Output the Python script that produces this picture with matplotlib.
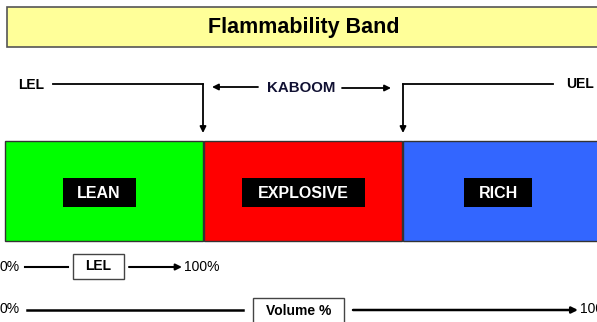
import matplotlib.pyplot as plt
from matplotlib.patches import Rectangle

plt.rcParams['font.family'] = ['Liberation Sans', 'DejaVu Sans']

# zones of the flammability band (pixel layout, y grows downward)
zone_names = ['LEAN', 'EXPLOSIVE', 'RICH']
zone_left = [5, 204, 403]
zone_right = [203, 402, 600]
zone_colors = ['#00FF00', '#FF0000', '#3366FF']
label_centers = [99, 303, 498]
label_widths = [73, 123, 68]
limit_names = ['LEL', 'UEL']
title = 'Flammability Band'

W, H = 597, 322
fig = plt.figure(figsize=(W / 100, H / 100), dpi=100)
ax = fig.add_axes([0, 0, 1, 1])
ax.set_xlim(0, W)
ax.set_ylim(H, 0)
ax.axis('off')

# title banner
ax.add_patch(Rectangle((7, 7), 600, 40, facecolor='#FFFF99', edgecolor='#555555', lw=1.2))
ax.text(304, 27, title, ha='center', va='center', fontsize=15.5, fontweight='bold')

arrow = dict(arrowstyle='-|>', color='black', lw=1.3, mutation_scale=9, shrinkA=0, shrinkB=0)

# LEL / UEL brackets pointing down to zone boundaries
ax.text(18, 85, limit_names[0], ha='left', va='center', fontsize=10, fontweight='bold')
ax.plot([53, 203], [84, 84], color='black', lw=1.3)
ax.annotate('', xy=(203, 133), xytext=(203, 84), arrowprops=arrow)
ax.text(566, 84, limit_names[1], ha='left', va='center', fontsize=10, fontweight='bold')
ax.plot([553, 403], [84, 84], color='black', lw=1.3)
ax.annotate('', xy=(403, 133), xytext=(403, 84), arrowprops=arrow)

# KABOOM between the limits
ax.text(301, 88, 'KABOOM', ha='center', va='center', fontsize=10.8, fontweight='bold', color='#111133')
ax.annotate('', xy=(212, 87), xytext=(258, 87), arrowprops=arrow)
ax.annotate('', xy=(391, 88), xytext=(342, 88), arrowprops=arrow)

# coloured zones with black labels
for name, x0, x1, c, cx, lw in zip(zone_names, zone_left, zone_right, zone_colors,
                                   label_centers, label_widths):
    ax.add_patch(Rectangle((x0, 141), x1 - x0, 100, facecolor=c, edgecolor='#333333', lw=1.0))
    ax.add_patch(Rectangle((cx - lw / 2, 178), lw, 29, facecolor='black', edgecolor='none'))
    ax.text(cx, 193, name, ha='center', va='center', fontsize=11.5, fontweight='bold', color='white')

# 0% -> LEL -> 100% scale
ax.text(20, 267, '0%', ha='right', va='center', fontsize=10)
ax.plot([25, 68], [267, 267], color='black', lw=1.5)
ax.add_patch(Rectangle((73, 254), 51, 25, facecolor='white', edgecolor='#444444', lw=1.0))
ax.text(98.5, 266.5, 'LEL', ha='center', va='center', fontsize=10, fontweight='bold')
ax.annotate('', xy=(182, 267), xytext=(129, 267),
            arrowprops=dict(arrowstyle='-|>', color='black', lw=1.5, mutation_scale=9, shrinkA=0, shrinkB=0))
ax.text(184, 267, '100%', ha='left', va='center', fontsize=10)

# 0% -> Volume % -> 100% scale
ax.text(20, 309, '0%', ha='right', va='center', fontsize=10)
ax.plot([27, 243], [310, 310], color='black', lw=1.8)
ax.add_patch(Rectangle((253, 298), 91, 30, facecolor='white', edgecolor='#444444', lw=1.0))
ax.text(298.5, 311, 'Volume %', ha='center', va='center', fontsize=10, fontweight='bold')
ax.annotate('', xy=(578, 310), xytext=(353, 310),
            arrowprops=dict(arrowstyle='-|>', color='black', lw=1.8, mutation_scale=9, shrinkA=0, shrinkB=0))
ax.text(580, 309, '100%', ha='left', va='center', fontsize=10)

fig.savefig('out.png', dpi=100)
